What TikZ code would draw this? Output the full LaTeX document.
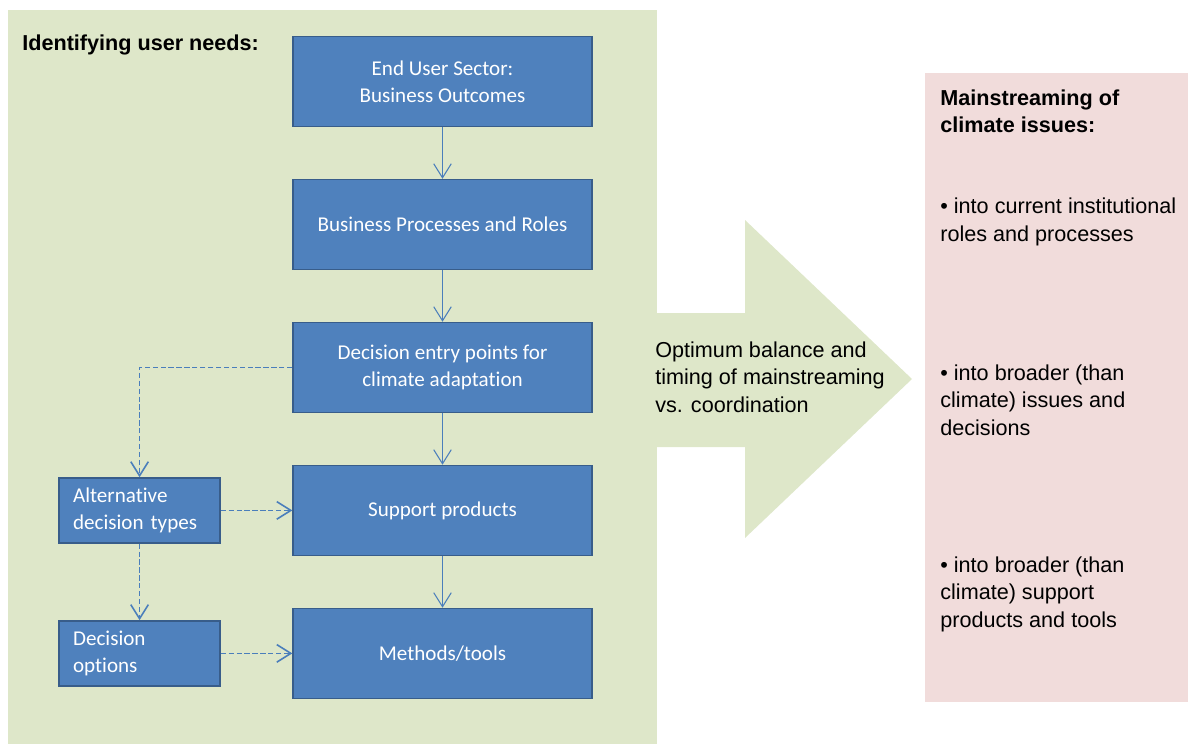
\documentclass[tikz,border=0pt]{standalone}
\usepackage{fontspec}
\setmainfont{Liberation Sans}
\newfontfamily\calibri[Ligatures=NoCommon]{Carlito}
\usepackage{tikz}
\usetikzlibrary{arrows.meta, positioning}
\definecolor{panelgreen}{RGB}{222,231,201}
\definecolor{panelpink}{RGB}{241,220,219}
\definecolor{boxblue}{RGB}{79,129,189}
\definecolor{boxedge}{RGB}{56,93,138}
\definecolor{linkblue}{RGB}{74,126,187}
\tikzstyle{process} = [rectangle, minimum width=5.98cm, minimum height=1.8cm, align=center, draw=boxedge, fill=boxblue, line width=0.8pt, text=white, font=\calibri\fontsize{12}{15.3}\selectfont]
\tikzstyle{option} = [rectangle, minimum height=1.3cm, text width=2.66cm, inner xsep=0.28cm, align=left, draw=boxedge, fill=boxblue, line width=0.8pt, text=white, font=\calibri\fontsize{12}{15.3}\selectfont]
\tikzstyle{label} = [inner sep=0pt, anchor=west, align=left, font=\fontsize{12.3}{15.6}\selectfont]
\tikzstyle{heading} = [label, font=\bfseries\fontsize{12.3}{15.6}\selectfont]
\tikzstyle{arrow} = [line width=0.6pt, draw=linkblue, -{Straight Barb[length=8pt,width=10pt]}]
\tikzstyle{dasharrow} = [arrow, line width=0.9pt, dash pattern=on 3pt off 1.5pt]

\begin{document}
\begin{tikzpicture}[x=0.02cm, y=-0.02cm, node distance=2.86cm]
    \useasboundingbox (0,0) rectangle (1188,744);
    \fill[panelgreen] (8,10) rectangle (657,744);
    \fill[panelgreen] (656,313) -- (745,313) -- (745,220) -- (912,379)
        -- (745,538) -- (745,447) -- (656,447) -- cycle;
    \fill[panelpink] (925,73) rectangle (1188,702);

    \node (needs) [heading] at (22,45) {Identifying user needs:};
    \node (bus)   [process] at (442.5,81.5) {End User Sector:\\Business Outcomes};
    \node (proc)  [process, below of=bus] {Business Processes and Roles};
    \node (dep)   [process, below of=proc] {Decision entry points for\\climate adaptation};
    \node (sup)   [process, below of=dep] {Support products};
    \node (meth)  [process, below of=sup] {Methods/tools};
    \node (alt)   [option, left of=sup, xshift=-3.2cm] {Alternative\\decision types};
    \node (opt)   [option, left of=meth, xshift=-3.2cm] {Decision\\options};

    \draw [arrow] (bus)  -- (proc);
    \draw [arrow] (proc) -- (dep);
    \draw [arrow] (dep)  -- (sup);
    \draw [arrow] (sup)  -- (meth);
    \draw [dasharrow] (dep.west) -| (alt.north);
    \draw [dasharrow] (alt) -- (opt);
    \draw [dasharrow] (alt) -- (sup);
    \draw [dasharrow] (opt) -- (meth);

    \node (bal)   [label] at (655,377) {Optimum balance and\\timing of mainstreaming\\vs. coordination};

    \node (main)  [heading] at (940,111) {Mainstreaming of\\climate issues:};
    \node (roles) [label] at (940,222) {\textbullet{} into current institutional\\roles and processes};
    \node (issue) [label] at (940,400) {\textbullet{} into broader (than\\climate) issues and\\decisions};
    \node (tools) [label] at (940,594) {\textbullet{} into broader (than\\climate) support\\products and tools};
\end{tikzpicture}
\end{document}
